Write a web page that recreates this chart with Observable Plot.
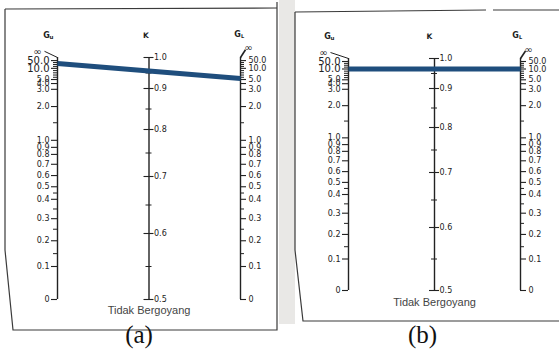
<!DOCTYPE html>
<html><head><meta charset="utf-8">
<script src="https://cdn.jsdelivr.net/npm/d3@7"></script>
<script src="https://cdn.jsdelivr.net/npm/@observablehq/plot@0.6"></script>
<style>
html,body{margin:0;padding:0;background:#fff;}
#wrap{position:relative;width:559px;height:356px;overflow:hidden;background:#fff;}
#wrap svg{position:absolute;top:0;}
</style></head><body>
<div id="wrap">
<svg id="deco" width="559" height="356" style="left:0">
  <rect x="279" y="0" width="16" height="324" fill="#e9e8e6"/>
  <g fill="none" stroke="#3a3a3a" stroke-width="1.2">
    <polyline points="5,9 5,250 13,330 277,330 277,2"/>
    <line x1="5" y1="9" x2="277" y2="8"/>
    <polyline points="295,12 295,250 303,321 559,321"/>
    <line x1="295" y1="12" x2="486" y2="10"/>
    <line x1="493" y1="10" x2="559" y2="10"/>
  </g>
</svg>
</div>
<script>
// ---- data ----
const axes = ["G_U", "K", "G_L"];
const kTicks = [0.5, 0.6, 0.7, 0.8, 0.9, 1.0];
const kLabels = ["0.5", "0.6", "0.7", "0.8", "0.9", "1.0"];
const kMinor = [0.55, 0.65, 0.75, 0.85, 0.95];
const gValues = [0, 0.1, 0.2, 0.3, 0.4, 0.5, 0.6, 0.7, 0.8, 0.9, 1, 2, 3, 4, 5, 10, 50];
const gLabels = ["0", "0.1", "0.2", "0.3", "0.4", "0.5", "0.6", "0.7", "0.8", "0.9", "1.0", "2.0", "3.0", "4.0", "5.0", "10.0", "50.0"];
// K read on the chart at the same height as each G tick (K when G_U = G_L)
const gAsK = [0.5, 0.55, 0.589, 0.626, 0.66, 0.682, 0.702, 0.726, 0.747, 0.762, 0.777, 0.856, 0.898, 0.916, 0.929, 0.965, 0.99];
const gMinor = [0.15, 0.25, 0.35, 0.45, 1.5, 6, 7, 8, 9, 20, 30, 40];
const rightHidden = ["4.0"];
const guLines = { "(a)": 35, "(b)": 10 };
const glLines = { "(a)": 5.5, "(b)": 10 };
const footer = "Tidak Bergoyang";

// ---- drawing ----
const H = 356;
const wrap = document.getElementById("wrap");
const ink = "#222";

function panel(cfg) {
  const gToK = d3.scaleLinear().domain(gValues).range(gAsK);
  const gRows = gValues.map((v, i) => ({v, k: gAsK[i], label: gLabels[i]}));
  const gMinorRows = gMinor.map(v => ({v, k: gToK(v)}));
  const kRows = kTicks.map((k, i) => ({k, label: kLabels[i]}));
  const u = px => px / cfg.unit;
  const line = [{gu: guLines[cfg.caption], gl: glLines[cfg.caption]}];
  const bigLeft = l => (l === "50.0" || l === "10.0") ? 10 : 8;
  return Plot.plot({
    width: cfg.width, height: H,
    marginTop: cfg.titleY, marginBottom: H - cfg.footY, marginLeft: 0, marginRight: 0,
    style: {background: "transparent", fontFamily: "'DejaVu Sans', sans-serif", overflow: "visible"},
    x: {type: "linear", domain: [0, 2], range: cfg.xRange, axis: null},
    y: {type: "linear", domain: kTicks, range: cfg.yRange, axis: null},
    marks: [
      // axis lines
      Plot.ruleX([0, 1, 2], {x: d => d, y1: kTicks[0], y2: kTicks[kTicks.length - 1], stroke: ink, strokeWidth: 1.4}),
      // G_U ticks (left side)
      Plot.ruleY(gRows, {y: "k", x1: u(-6), x2: 0, stroke: ink, strokeWidth: 1.1}),
      Plot.ruleY(gMinorRows, {y: "k", x1: u(-4), x2: 0, stroke: ink, strokeWidth: 1}),
      // G_L ticks (right side)
      Plot.ruleY(gRows, {y: "k", x1: 2, x2: 2 + u(6), stroke: ink, strokeWidth: 1.1}),
      Plot.ruleY(gMinorRows, {y: "k", x1: 2, x2: 2 + u(4), stroke: ink, strokeWidth: 1}),
      // K ticks
      Plot.ruleY(kRows, {y: "k", x1: 1 - u(5), x2: 1 + u(5), stroke: ink, strokeWidth: 1.1}),
      Plot.ruleY(kMinor, {y: d => d, x1: 1 - u(3), x2: 1 + u(3), stroke: ink, strokeWidth: 1}),
      // infinity hooks
      Plot.link([0], {x1: 0, y1: 1.0, x2: u(-cfg.infL + 7), y2: 1.02, stroke: ink, strokeWidth: 1}),
      Plot.link([0], {x1: 2, y1: 1.0, x2: 2 + u(5), y2: 1.025, stroke: ink, strokeWidth: 1.6}),
      Plot.text(["∞"], {x: 0, y: 1.02, dx: -cfg.infL, fontSize: 10, fill: ink}),
      Plot.text(["∞"], {x: 2, y: 1.03, dx: 8, fontSize: 10, fill: ink}),
      // tick labels
      Plot.text(gRows, {x: 0, y: "k", text: "label", textAnchor: "end", dx: -8, fontSize: d => bigLeft(d.label), fill: ink}),
      Plot.text(gRows.filter(d => !rightHidden.includes(d.label)), {x: 2, y: "k", text: "label", textAnchor: "start", dx: 8, fontSize: 8, fill: ink}),
      Plot.text(kRows, {x: 1, y: "k", text: "label", textAnchor: "start", dx: 5, fontSize: 8, fill: ink}),
      // blue alignment line
      Plot.link(line, {x1: 0, x2: 2, y1: d => gToK(d.gu), y2: d => gToK(d.gl), stroke: "#1f4e7d", strokeWidth: 5}),
      // axis titles
      Plot.text(["G"], {x: 0, frameAnchor: "top", dx: cfg.guDx, fontSize: 8, fontWeight: "bold", fill: ink}),
      Plot.text(["u"], {x: 0, frameAnchor: "top", dx: cfg.guDx + 5, dy: 3, fontSize: 5.5, fontWeight: "bold", fill: ink}),
      Plot.text(["K"], {x: 1, frameAnchor: "top", dx: cfg.kDx, fontSize: 7.5, fontWeight: "bold", fill: ink}),
      Plot.text(["G"], {x: 2, frameAnchor: "top", dx: cfg.glDx, dy: -1, fontSize: 8, fontWeight: "bold", fill: ink}),
      Plot.text(["L"], {x: 2, frameAnchor: "top", dx: cfg.glDx + 5, dy: 2, fontSize: 5, fontWeight: "bold", fill: ink}),
      // footer and caption
      Plot.text([footer], {x: 1, frameAnchor: "bottom", fontFamily: "'Liberation Sans', Arial, sans-serif", fontSize: 11, fill: "#444"}),
      Plot.text([cfg.caption], {x: 1, frameAnchor: "bottom", dx: cfg.capDx, dy: cfg.capY - cfg.footY, fontFamily: "'Liberation Serif', 'Times New Roman', serif", fontSize: 25, fill: "#111"})
    ]
  });
}

const a = panel({caption: "(a)", width: 280, unit: 91.5, xRange: [57, 240], yRange: [299, 233, 176, 129, 88, 57],
  titleY: 32, footY: 313, capY: 342, capDx: -10, guDx: -11, kDx: -3, glDx: -3, infL: 20});
a.style.left = "0px";
wrap.appendChild(a);

const b = panel({caption: "(b)", width: 279, unit: 86, xRange: [68, 240], yRange: [290, 227, 172, 127, 88, 58],
  titleY: 33, footY: 305, capY: 342, capDx: -12, guDx: -21, kDx: -5, glDx: -5, infL: 25});
b.style.left = "280px";
wrap.appendChild(b);
</script>
</body></html>
